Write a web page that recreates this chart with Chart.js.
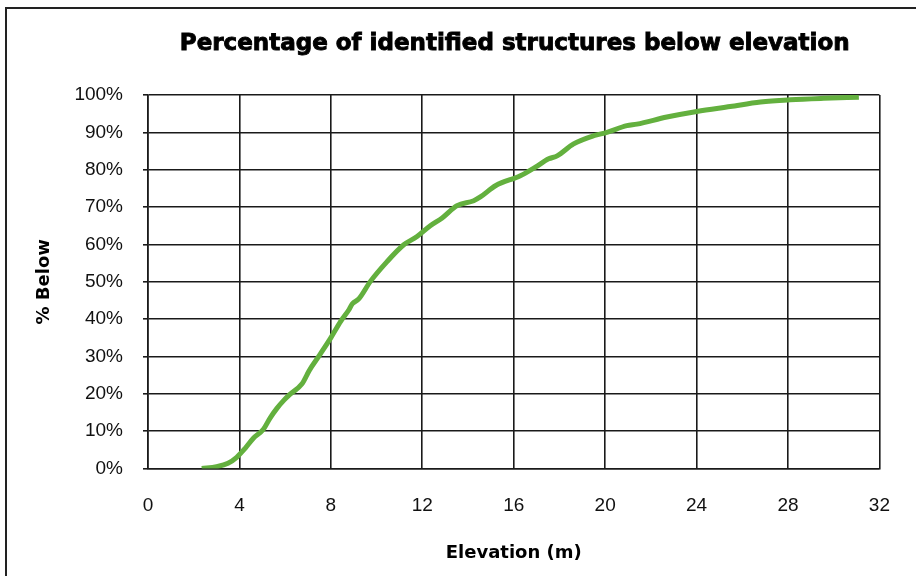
<!DOCTYPE html>
<html>
<head>
<meta charset="utf-8">
<title>Percentage of identified structures below elevation</title>
<script src="https://cdn.jsdelivr.net/npm/chart.js@4/dist/chart.umd.min.js"></script>
<style>
  html, body { margin: 0; padding: 0; background: #fff; }
  canvas { display: block; }
</style>
</head>
<body>
<canvas id="elevationChart" width="916" height="576"></canvas>
<script>
// Values
const chartTitle = 'Percentage of identified structures below elevation';
const xAxisTitle = 'Elevation (m)';
const yAxisTitle = '% Below';

const elevations = [
  2.35, 3.0, 3.5, 3.88, 4.25, 4.61, 5.05, 5.34, 5.64, 5.95, 6.22, 6.73, 6.95, 7.05,
  7.5, 7.99, 8.43, 8.79, 8.94, 9.22, 9.73, 10.46, 11.19, 11.77, 12.35, 12.87, 13.52,
  14.25, 14.54, 15.2, 16.29, 16.95, 17.53, 17.9, 18.62, 19.5, 20.08, 20.95, 21.39,
  22.7, 24.01, 25.47, 26.8, 28.1, 29.56, 31.1
];
const pctBelow = [
  0, 0.5, 1.4, 3.0, 5.4, 8.1, 10.5, 13.5, 16.1, 18.3, 19.9, 22.6, 25.0, 26.2,
  30.3, 34.9, 39.4, 42.5, 44.1, 45.4, 50.1, 55.4, 59.9, 62.1, 65.0, 67.1, 70.4,
  71.7, 72.7, 75.7, 78.4, 80.7, 82.9, 83.7, 86.9, 89.1, 90.0, 91.8, 92.2,
  94.1, 95.6, 96.9, 98.1, 98.7, 99.1, 99.4
];

const xTicks = [0, 4, 8, 12, 16, 20, 24, 28, 32];
const yTicks = [0, 10, 20, 30, 40, 50, 60, 70, 80, 90, 100];

const gridColor = '#1a1a1a';
const lineColor = '#63b03e';

/**
 * White background, outer frame and the heavy chart title
 */
const framePlugin = {
  id: 'frame',
  beforeDraw(chart) {
    const ctx = chart.ctx;
    ctx.save();
    ctx.fillStyle = '#fff';
    ctx.fillRect(0, 0, chart.width, chart.height);
    ctx.strokeStyle = '#222';
    ctx.lineWidth = 2;
    ctx.beginPath();
    ctx.moveTo(6, chart.height);
    ctx.lineTo(6, 8);
    ctx.lineTo(chart.width, 8);
    ctx.stroke();
    ctx.restore();
  },
  afterDraw(chart) {
    const ctx = chart.ctx;
    const area = chart.chartArea;
    const cx = (area.left + area.right) / 2 + 1;
    ctx.save();
    ctx.fillStyle = '#000';
    ctx.strokeStyle = '#000';
    ctx.lineWidth = 0.9;
    ctx.font = 'bold 23px "DejaVu Sans"';
    ctx.textAlign = 'center';
    ctx.textBaseline = 'alphabetic';
    ctx.fillText(chartTitle, cx, 50);
    // a thin stroke to get closer to the heavy face of the original
    ctx.strokeText(chartTitle, cx, 50);
    ctx.restore();
  }
};

const points = elevations.map((x, i) => ({ x: x, y: pctBelow[i] }));

new Chart(document.getElementById('elevationChart'), {
  type: 'line',
  data: {
    datasets: [{
      label: yAxisTitle,
      data: points,
      borderColor: lineColor,
      borderWidth: 5,
      pointRadius: 0,
      fill: false,
      cubicInterpolationMode: 'monotone'
    }]
  },
  options: {
    responsive: false,
    animation: false,
    layout: {
      padding: { top: 95, right: 36, bottom: 0, left: 0 }
    },
    plugins: {
      legend: { display: false },
      tooltip: { enabled: false }
    },
    scales: {
      x: {
        type: 'linear',
        min: 0,
        max: 32,
        afterBuildTicks: (scale) => {
          scale.ticks = xTicks.map(v => ({ value: v }));
        },
        afterFit: (scale) => {
          scale.height = 107.5;
        },
        grid: {
          color: gridColor,
          lineWidth: 1.6,
          drawTicks: false
        },
        border: { color: gridColor, width: 1.6 },
        ticks: {
          color: '#111',
          padding: 26,
          maxRotation: 0,
          font: { family: '"Liberation Sans", Arial, sans-serif', size: 19 }
        },
        title: {
          display: true,
          text: xAxisTitle,
          color: '#000',
          padding: { top: 0, bottom: 12 },
          font: { family: '"DejaVu Sans"', size: 18, weight: 'bold' }
        }
      },
      y: {
        min: 0,
        max: 100,
        afterBuildTicks: (scale) => {
          scale.ticks = yTicks.map(v => ({ value: v }));
        },
        afterFit: (scale) => {
          scale.width = 148;
        },
        grid: {
          color: gridColor,
          lineWidth: 1.6,
          tickLength: 5
        },
        border: { color: gridColor, width: 1.6 },
        ticks: {
          color: '#111',
          padding: 20,
          font: { family: '"Liberation Sans", Arial, sans-serif', size: 19 },
          callback: (value) => value + '%'
        },
        title: {
          display: true,
          text: yAxisTitle,
          color: '#000',
          padding: { top: 34, bottom: 0 },
          font: { family: '"DejaVu Sans"', size: 18, weight: 'bold' }
        }
      }
    }
  },
  plugins: [framePlugin]
});
</script>
</body>
</html>
